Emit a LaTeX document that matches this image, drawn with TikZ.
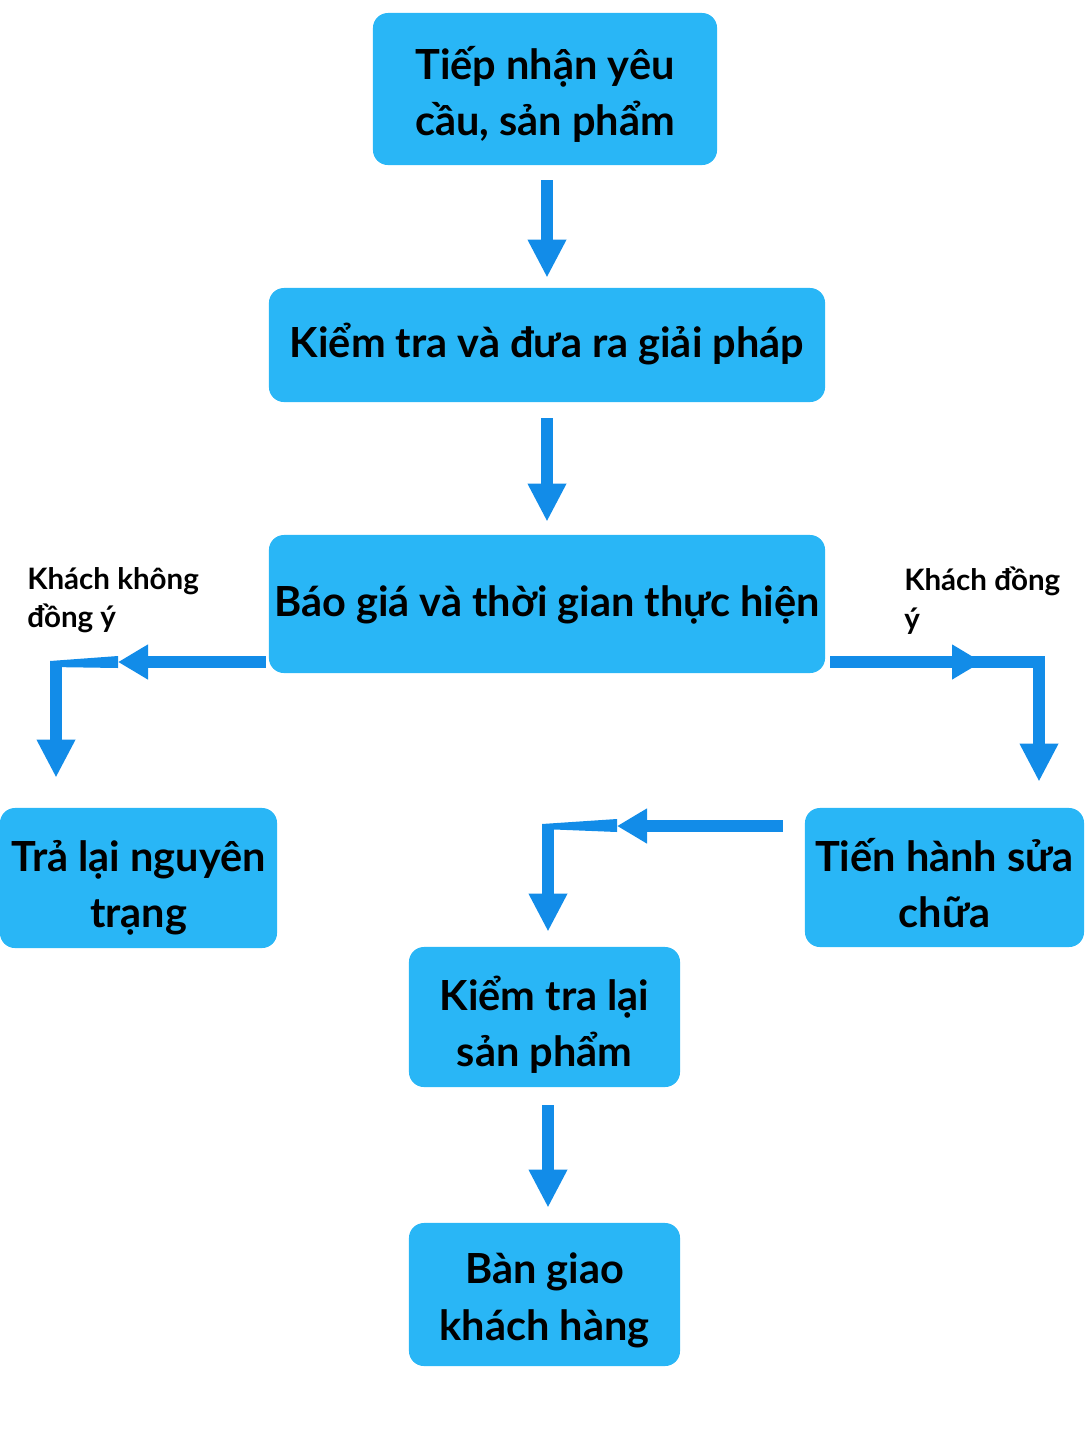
\documentclass[tikz,border=0pt]{standalone}
\usepackage{fontspec}
\setmainfont{Lato}
\usetikzlibrary{arrows.meta,calc}
\definecolor{boxblue}{RGB}{41,182,246}
\definecolor{arrowblue}{RGB}{18,140,232}

\begin{document}
\begin{tikzpicture}[x=0.025cm,y=-0.025cm,
                    flow/.style={draw=arrowblue,line width=0.3cm,miter limit=4,-{Triangle[length=0.95cm,width=0.9cm]}},
                    midflow/.style={draw=arrowblue,line width=0.3cm,-{Triangle[length=0.75cm,width=0.825cm]}},
                    box/.style 2 args={minimum width=#1,minimum height=#2},
                    one line/.style={text height=18pt,text depth=0pt},
                    two lines/.style={text height=#1,text depth=0pt},
                    two lines/.default=71pt]
\tikzstyle{every node}=[inner sep=0pt]
\tikzstyle{step box}=[rectangle,rounded corners=0.375cm,fill=boxblue,text=black,align=center,
                 font=\bfseries\fontsize{29.5pt}{40pt}\selectfont]
\tikzstyle{lbl}=[align=left,anchor=north west,font=\bfseries\fontsize{21pt}{27.5pt}\selectfont]

\useasboundingbox (0,0) rectangle (1086,1448);

        \node[step box,box={8.6cm}{3.8cm},two lines=66pt]    (0) at (545,89)      {Tiếp nhận yêu\\cầu, sản phẩm};
        \node[step box,box={13.9cm}{2.85cm},one line]        (1) at (547,345)     {Kiểm tra và đưa ra giải pháp};
        \node[step box,box={13.9cm}{3.45cm},one line]        (2) at (547,604)     {Báo giá và thời gian thực hiện};
        \node[step box,box={6.925cm}{3.5cm},two lines]       (3) at (138.5,878)   {Trả lại nguyên\\trạng};
        \node[step box,box={6.975cm}{3.475cm},two lines]     (4) at (944.5,877.5) {Tiến hành sửa\\chữa};
        \node[step box,box={6.775cm}{3.5cm},two lines]       (5) at (544.5,1017)  {Kiểm tra lại\\sản phẩm};
        \node[step box,box={6.775cm}{3.575cm},two lines=65pt] (6) at (544.5,1294.5) {Bàn giao\\khách hàng};

        \node[lbl] (l0) at (27,567)  {Khách không\\đồng ý};
        \node[lbl] (l1) at (904,567) {Khách đồng\\ý};

        % corners and mid tips
        \coordinate (c0) at (56,662);
        \coordinate (t0) at (118,662);
        \coordinate (c1) at (1039,662);
        \coordinate (t1) at (982,662);
        \coordinate (c2) at (548,826);
        \coordinate (t2) at (617,826);

        \draw[flow,shorten <=0.375cm,shorten >=0.25cm] (1.north |- 0.south) -- (1.north);
        \draw[flow,shorten <=0.4cm,shorten >=0.325cm]  (1.south) -- (2.north);

        % khach khong dong y
        \draw[midflow,shorten <=0.075cm] (2.west |- c0) -- (t0);
        \fill[arrowblue] ($(t0)+(0,-6)$) -- ($(c0)+(-6,-1)$) -- ($(c0)+(-6,5)$) -- ($(t0)+(0,6)$) -- cycle;
        \draw[flow,shorten >=0.75cm] ($(c0)+(0,-1)$) -- (c0 |- 3.north);

        % khach dong y
        \draw[flow,shorten <=0.125cm,shorten >=0.65cm] (2.east |- c1) -- (c1) -- (c1 |- 4.north);
        \draw[midflow,shorten <=0.125cm] (2.east |- c1) -- (t1);

        % sua chua -> kiem tra lai
        \draw[midflow,shorten <=0.55cm] (4.west |- c2) -- (t2);
        \fill[arrowblue] ($(t2)+(0,-7)$) -- ($(c2)+(-6,-2)$) -- ($(c2)+(-6,3)$) -- ($(t2)+(0,6)$) -- cycle;
        \draw[flow,shorten >=0.375cm] ($(c2)+(0,-2)$) -- (c2 |- 5.north);

        \draw[flow,shorten <=0.45cm,shorten >=0.375cm] (c2 |- 5.south) -- (c2 |- 6.north);
\end{tikzpicture}
\end{document}
